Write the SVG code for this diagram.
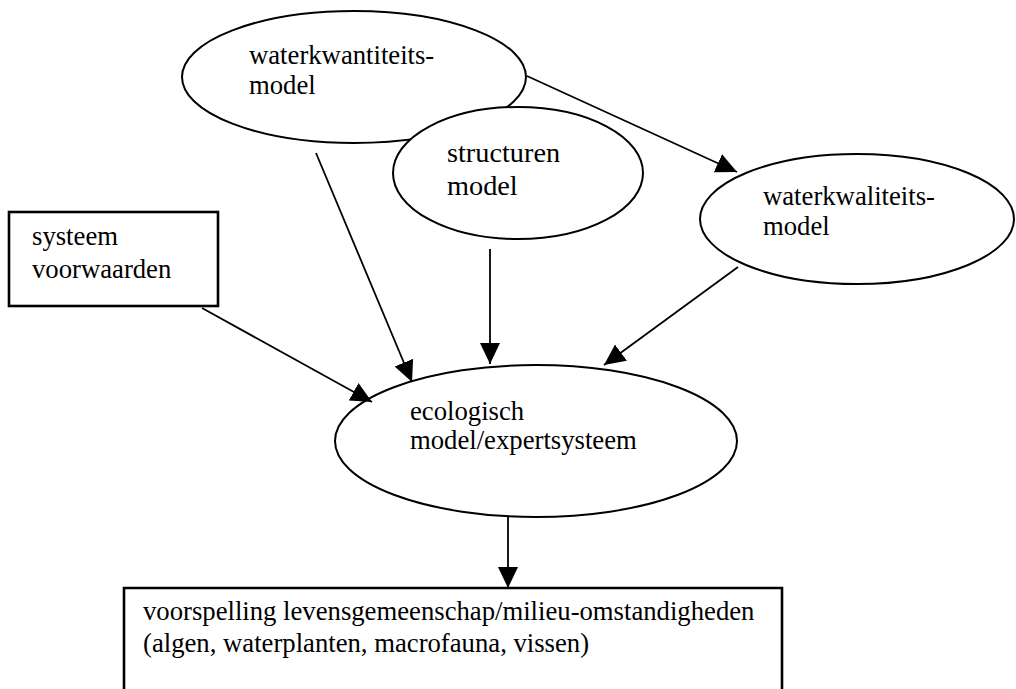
<svg xmlns="http://www.w3.org/2000/svg" width="1016" height="689" viewBox="0 0 1016 689">
  <style>
    .shape { fill: #ffffff; stroke: #000000; stroke-width: 2; }
    .box { fill: #ffffff; stroke: #000000; stroke-width: 2.6; }
    .label { font-family: "Liberation Serif", "Times New Roman", serif; font-size: 26.7px; fill: #000000; }
    .large { font-size: 28.3px; }
    .link { stroke: #000000; stroke-width: 1.8; fill: none; marker-end: url(#head); }
  </style>
  <defs>
    <marker id="head" markerUnits="userSpaceOnUse" markerWidth="22" markerHeight="22" viewBox="0 0 22 22" refX="21" refY="11" orient="auto">
      <path d="M0,1 L21,11 L0,21 Z" fill="#000000"/>
    </marker>
  </defs>

  <!-- water quantity model -->
  <g id="waterkwantiteitsmodel">
    <ellipse class="shape" cx="354" cy="77" rx="172" ry="66"/>
    <text class="label" x="249" y="64">waterkwantiteits-</text>
    <text class="label" x="249" y="94">model</text>
  </g>

  <!-- structure model, drawn over the quantity model -->
  <g id="structurenmodel">
    <ellipse class="shape" cx="518" cy="173" rx="125" ry="66"/>
    <text class="label large" x="447" y="162">structuren</text>
    <text class="label large" x="447" y="195">model</text>
  </g>

  <!-- water quality model -->
  <g id="waterkwaliteitsmodel">
    <ellipse class="shape" cx="857" cy="219" rx="157" ry="65"/>
    <text class="label" x="763" y="205">waterkwaliteits-</text>
    <text class="label" x="763" y="235">model</text>
  </g>

  <!-- system conditions -->
  <g id="systeemvoorwaarden">
    <rect class="box" x="9" y="212" width="209" height="94"/>
    <text class="label" x="32" y="245">systeem</text>
    <text class="label" x="32" y="278">voorwaarden</text>
  </g>

  <!-- ecological model / expert system -->
  <g id="ecologischmodel">
    <ellipse class="shape" cx="536" cy="441" rx="201" ry="76"/>
    <text class="label" x="410" y="420">ecologisch</text>
    <text class="label" x="410" y="449">model/expertsysteem</text>
  </g>

  <!-- prediction box, open at the bottom edge -->
  <g id="voorspelling">
    <path class="box" d="M124,700 L124,588 L782,588 L782,700"/>
    <text class="label" x="143" y="620">voorspelling levensgemeenschap/milieu-omstandigheden</text>
    <text class="label" x="143" y="652">(algen, waterplanten, macrofauna, vissen)</text>
  </g>

  <!-- connectors -->
  <g id="connectors">
    <line class="link" x1="527" y1="76" x2="737" y2="172"/>
    <line class="link" x1="316" y1="153" x2="412" y2="382"/>
    <line class="link" x1="490" y1="249" x2="490" y2="364"/>
    <line class="link" x1="738" y1="267" x2="604" y2="365"/>
    <line class="link" x1="202" y1="308" x2="372" y2="402"/>
    <line class="link" x1="508" y1="517" x2="508" y2="588"/>
  </g>
</svg>
